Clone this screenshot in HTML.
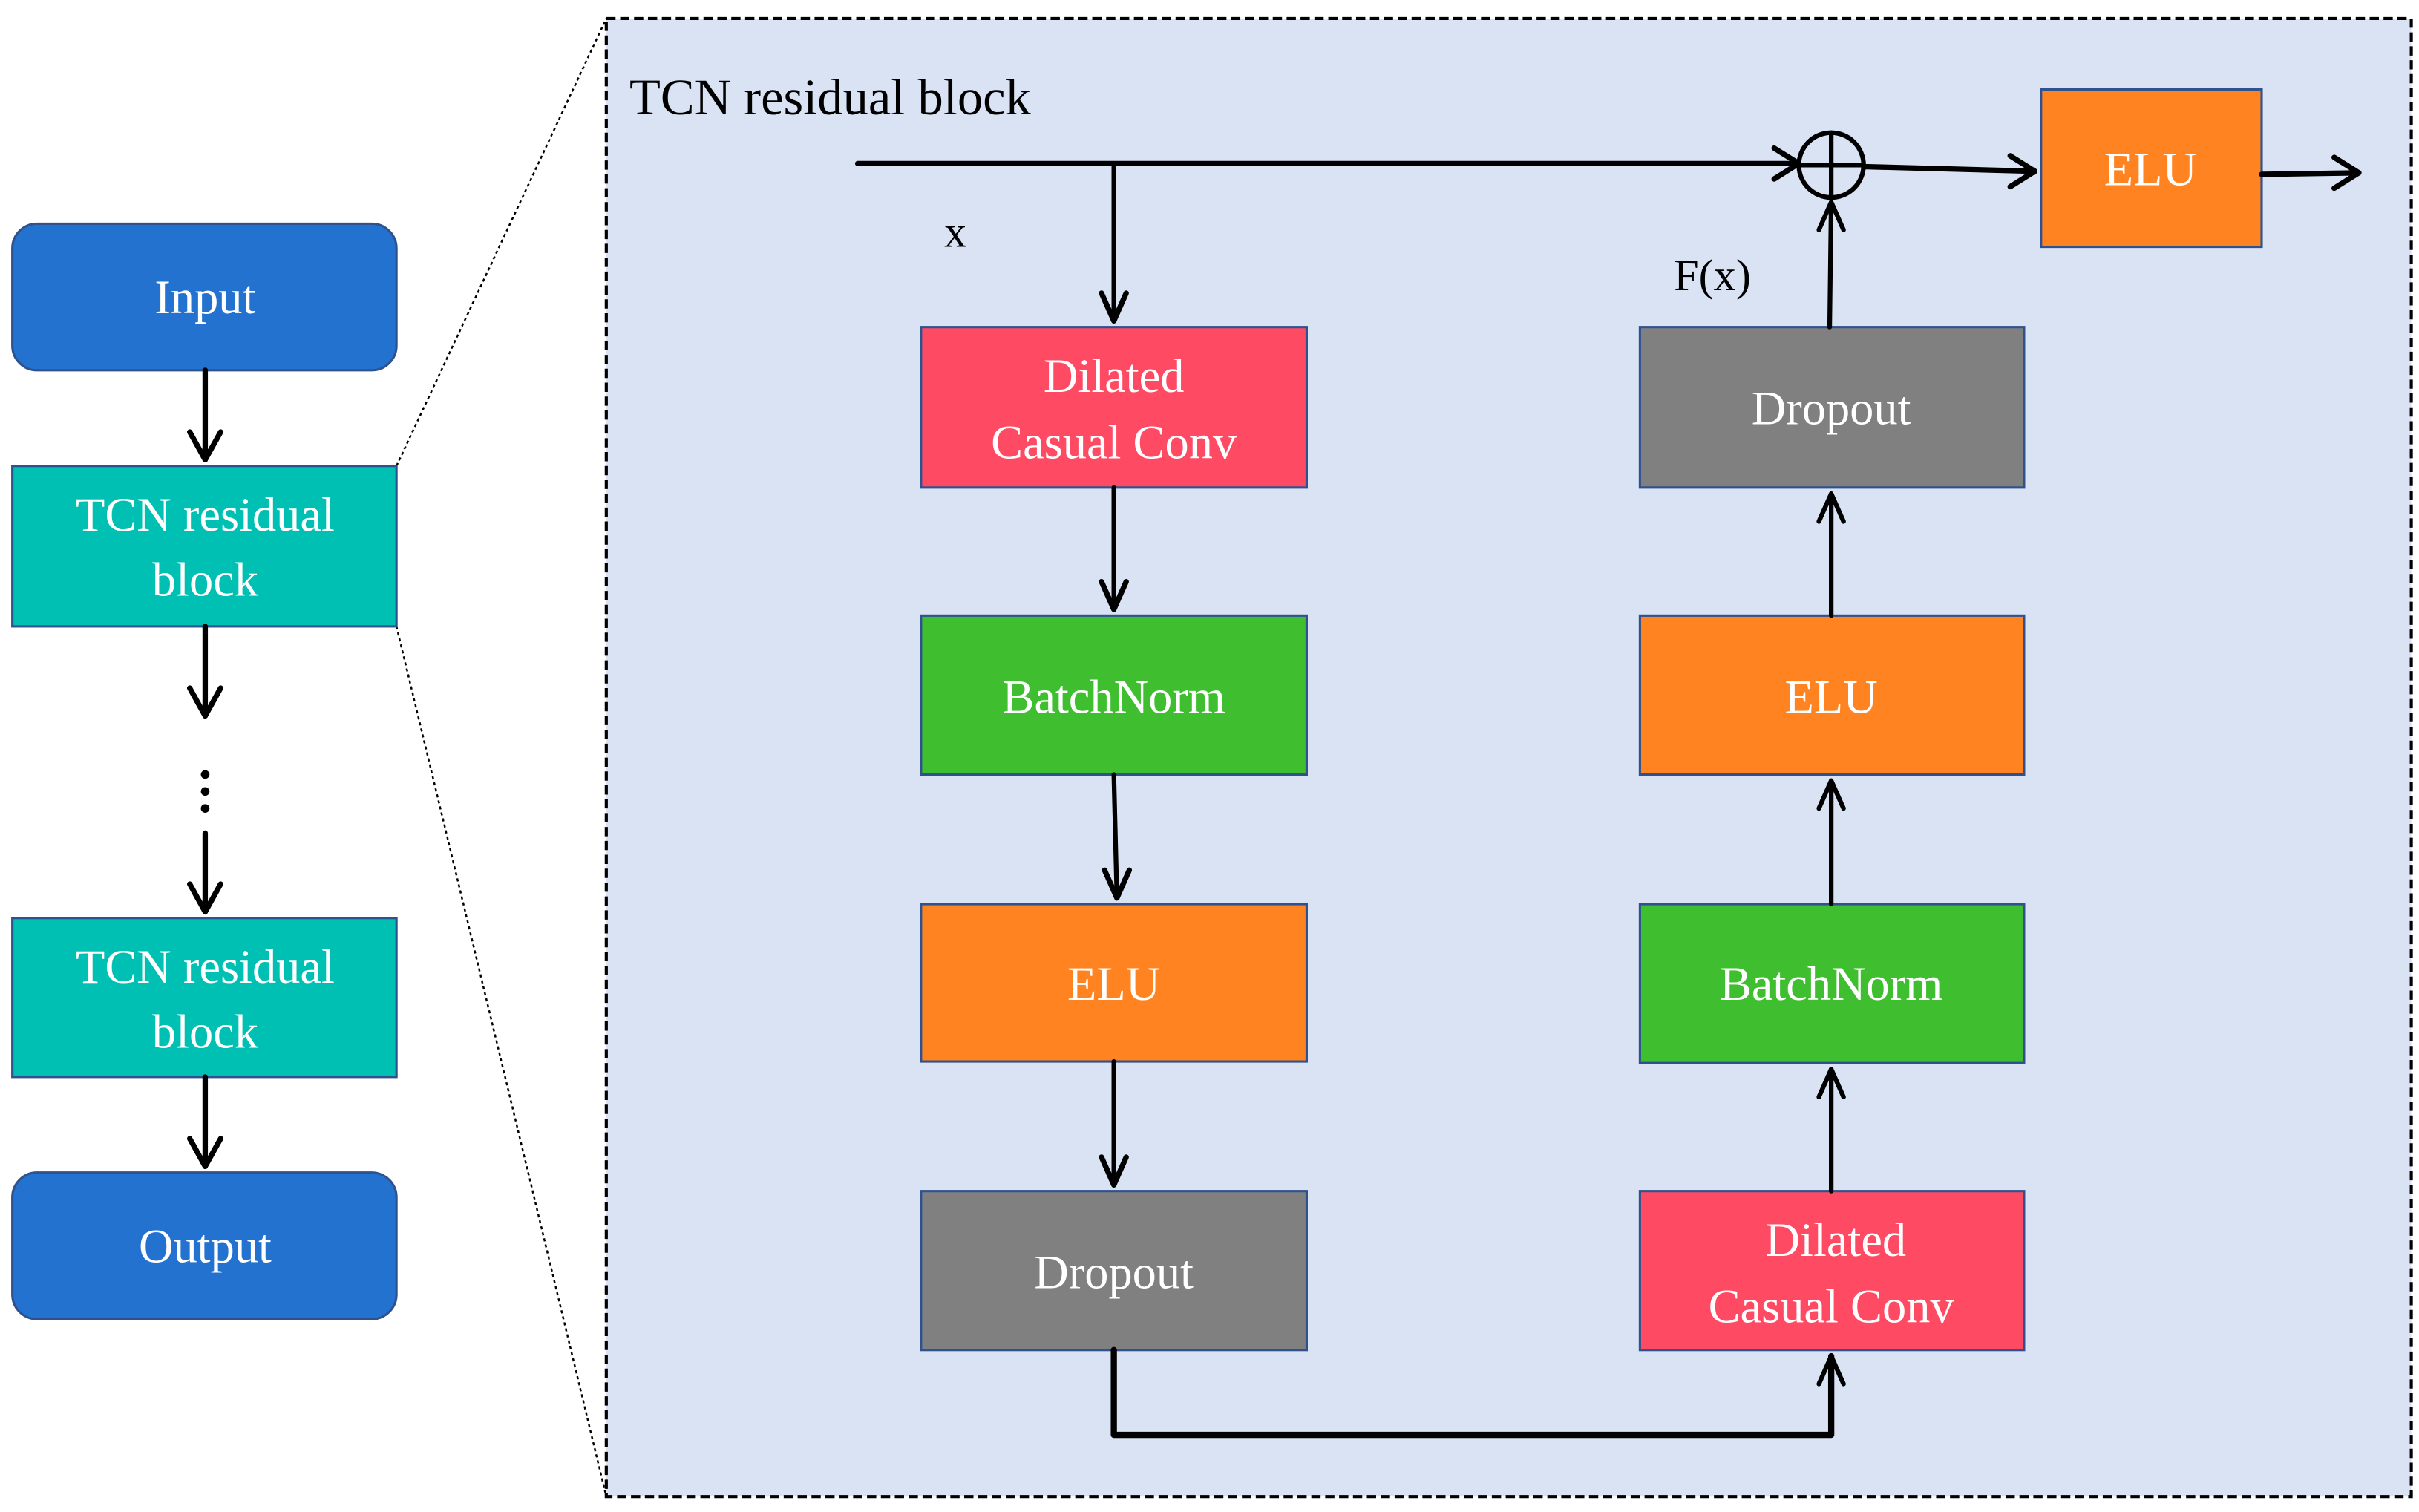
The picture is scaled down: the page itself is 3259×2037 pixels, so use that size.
<!DOCTYPE html>
<html><head><meta charset="utf-8"><style>
html,body{margin:0;padding:0;background:#fff;}
svg{display:block;}
svg text{font-family:"Liberation Serif","Times New Roman",serif;}
</style></head><body>
<svg width="3259" height="2037" viewBox="0 0 1568 980" preserveAspectRatio="none" xmlns="http://www.w3.org/2000/svg" font-family="'Liberation Serif', serif">
<rect width="1568" height="980" fill="#fff"/>
<rect x="393" y="12" width="1170" height="958" fill="#D9E3F4" stroke="#000" stroke-width="2" stroke-dasharray="6,3"/>
<line x1="257" y1="302" x2="393" y2="12" stroke="#000" stroke-width="1.2" stroke-dasharray="2,2"/>
<line x1="257" y1="406" x2="393" y2="970" stroke="#000" stroke-width="1.2" stroke-dasharray="2,2"/>
<rect x="8" y="145" width="249" height="95" rx="16" fill="#2472D0" stroke="#2F528F" stroke-width="1.5"/>
<text x="133" y="203" font-size="31" fill="#fff" text-anchor="middle" font-family="Liberation Serif, serif">Input</text>
<rect x="8" y="302" width="249" height="104" fill="#00C0B4" stroke="#2F528F" stroke-width="1.5"/>
<text x="133" y="344" font-size="31" fill="#fff" text-anchor="middle" font-family="Liberation Serif, serif">TCN residual</text>
<text x="133" y="386" font-size="31" fill="#fff" text-anchor="middle" font-family="Liberation Serif, serif">block</text>
<rect x="8" y="595" width="249" height="103" fill="#00C0B4" stroke="#2F528F" stroke-width="1.5"/>
<text x="133" y="637" font-size="31" fill="#fff" text-anchor="middle" font-family="Liberation Serif, serif">TCN residual</text>
<text x="133" y="679" font-size="31" fill="#fff" text-anchor="middle" font-family="Liberation Serif, serif">block</text>
<rect x="8" y="760" width="249" height="95" rx="16" fill="#2472D0" stroke="#2F528F" stroke-width="1.5"/>
<text x="133" y="818" font-size="31" fill="#fff" text-anchor="middle" font-family="Liberation Serif, serif">Output</text>
<g stroke="#000" stroke-width="3.5" fill="none" stroke-linecap="round" stroke-linejoin="round">
<line x1="133" y1="240" x2="133" y2="298"/><polyline points="123,280 133,298 143,280"/>
<line x1="133" y1="406" x2="133" y2="464"/><polyline points="123,446 133,464 143,446"/>
<line x1="133" y1="540" x2="133" y2="591"/><polyline points="123,573 133,591 143,573"/>
<line x1="133" y1="698" x2="133" y2="756"/><polyline points="123,738 133,756 143,738"/>
</g>
<circle cx="133" cy="502" r="2.8" fill="#000"/><circle cx="133" cy="513" r="2.8" fill="#000"/><circle cx="133" cy="524" r="2.8" fill="#000"/>
<text x="408" y="74" font-size="33" fill="#000" font-family="Liberation Serif, serif">TCN residual block</text>
<text x="612" y="160" font-size="29" fill="#000" font-family="Liberation Serif, serif">x</text>
<text x="1085" y="188" font-size="29" fill="#000" font-family="Liberation Serif, serif">F(x)</text>
<g stroke="#2F528F" stroke-width="1.5">
<rect x="597" y="212" width="250" height="104" fill="#FF4A64"/>
<rect x="597" y="399" width="250" height="103" fill="#3FBF30"/>
<rect x="597" y="586" width="250" height="102" fill="#FF8421"/>
<rect x="597" y="772" width="250" height="103" fill="#808080"/>
<rect x="1063" y="212" width="249" height="104" fill="#808080"/>
<rect x="1063" y="399" width="249" height="103" fill="#FF8421"/>
<rect x="1063" y="586" width="249" height="103" fill="#3FBF30"/>
<rect x="1063" y="772" width="249" height="103" fill="#FF4A64"/>
<rect x="1323" y="58" width="143" height="102" fill="#FF8421"/>
</g>
<g font-size="31" fill="#fff" text-anchor="middle" font-family="Liberation Serif, serif">
<text x="722" y="254">Dilated</text><text x="722" y="297">Casual Conv</text>
<text x="722" y="462">BatchNorm</text>
<text x="722" y="648">ELU</text>
<text x="722" y="835">Dropout</text>
<text x="1187" y="275">Dropout</text>
<text x="1187" y="462">ELU</text>
<text x="1187" y="648">BatchNorm</text>
<text x="1190" y="814">Dilated</text><text x="1187" y="857">Casual Conv</text>
<text x="1394" y="120">ELU</text>
</g>
<g stroke="#000" stroke-width="3.5" fill="none" stroke-linecap="round" stroke-linejoin="round">
<line x1="556" y1="106" x2="1166" y2="106"/><polyline points="1150,96 1166,106 1150,116"/>
<circle cx="1187" cy="107" r="21" stroke-width="3"/>
<line x1="1166" y1="107" x2="1208" y2="107" stroke-width="3"/>
<line x1="1187" y1="86" x2="1187" y2="128" stroke-width="3"/>
<line x1="1208" y1="108" x2="1319" y2="111"/><polyline points="1303,101 1319,111 1303,121"/>
<line x1="1466" y1="113" x2="1529" y2="112"/><polyline points="1513,102 1529,112 1513,122"/>
<line x1="722" y1="106" x2="722" y2="208" stroke-width="3"/><polyline points="714,190 722,208 730,190"/>
<line x1="722" y1="316" x2="722" y2="395" stroke-width="3"/><polyline points="714,377 722,395 730,377"/>
<line x1="722" y1="502" x2="724" y2="582" stroke-width="3"/><polyline points="716,564 724,582 732,564"/>
<line x1="722" y1="688" x2="722" y2="768" stroke-width="3"/><polyline points="714,750 722,768 730,750"/>
<polyline points="722,875 722,930 1187,930 1187,879" stroke-width="4"/><polyline points="1179,897 1187,879 1195,897" stroke-width="3"/>
<line x1="1187" y1="772" x2="1187" y2="693" stroke-width="3"/><polyline points="1179,711 1187,693 1195,711" stroke-width="3"/>
<line x1="1187" y1="586" x2="1187" y2="506" stroke-width="3"/><polyline points="1179,524 1187,506 1195,524" stroke-width="3"/>
<line x1="1187" y1="399" x2="1187" y2="320" stroke-width="3"/><polyline points="1179,338 1187,320 1195,338" stroke-width="3"/>
<line x1="1186" y1="212" x2="1187" y2="131" stroke-width="3"/><polyline points="1179,149 1187,131 1195,149" stroke-width="3"/>
</g>
</svg>
</body></html>
